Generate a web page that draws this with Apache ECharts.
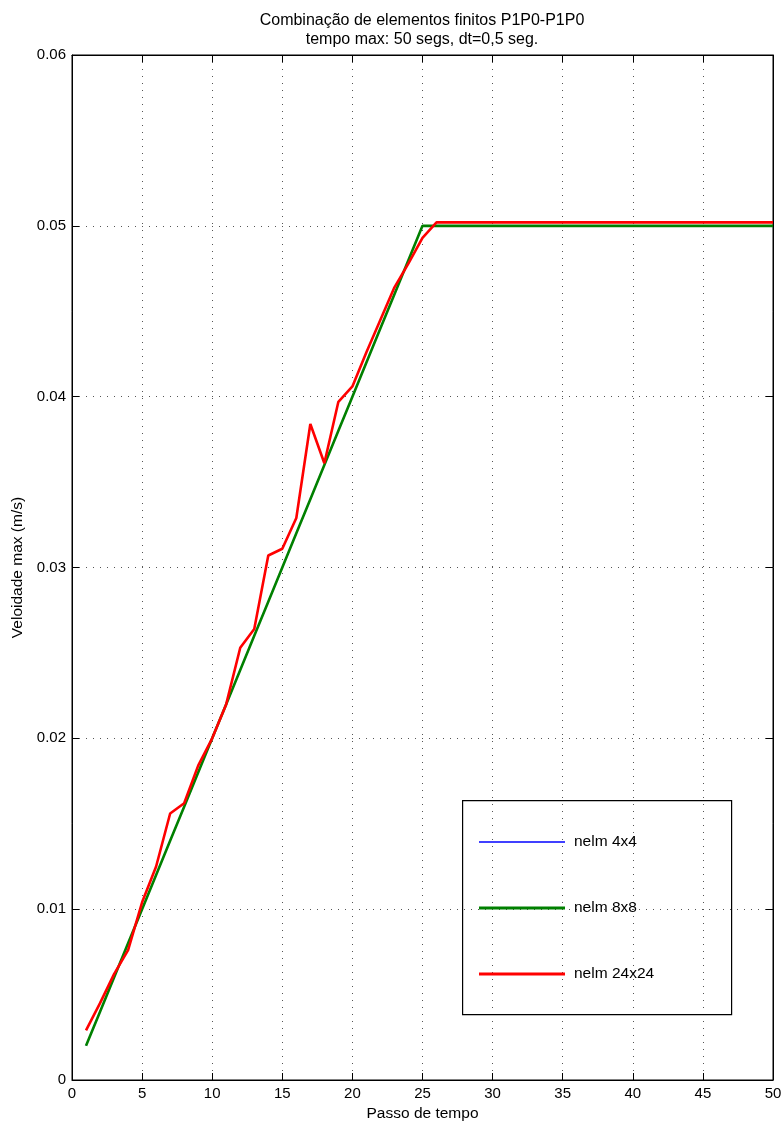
<!DOCTYPE html>
<html>
<head>
<meta charset="utf-8">
<script src="https://cdn.jsdelivr.net/npm/echarts@6/dist/echarts.min.js"></script>
<style>
  html, body { margin: 0; padding: 0; background: #fff; }
  #chart { width: 784px; height: 1126px; }
</style>
</head>
<body>
<div id="chart"></div>
<script>
// Time steps 1..50
const steps = [1,2,3,4,5,6,7,8,9,10,11,12,13,14,15,16,17,18,19,20,21,22,23,24,25,
               26,27,28,29,30,31,32,33,34,35,36,37,38,39,40,41,42,43,44,45,46,47,48,49,50];

// Max velocity (m/s) for each mesh
const nelm4x4 = [0.002,0.004,0.006,0.008,0.010,0.012,0.014,0.016,0.018,0.020,
                 0.022,0.024,0.026,0.028,0.030,0.032,0.034,0.036,0.038,0.040,
                 0.042,0.044,0.046,0.048,0.050,0.050,0.050,0.050,0.050,0.050,
                 0.050,0.050,0.050,0.050,0.050,0.050,0.050,0.050,0.050,0.050,
                 0.050,0.050,0.050,0.050,0.050,0.050,0.050,0.050,0.050,0.050];
const nelm8x8 = [0.002,0.004,0.006,0.008,0.010,0.012,0.014,0.016,0.018,0.020,
                 0.022,0.024,0.026,0.028,0.030,0.032,0.034,0.036,0.038,0.040,
                 0.042,0.044,0.046,0.048,0.050,0.050,0.050,0.050,0.050,0.050,
                 0.050,0.050,0.050,0.050,0.050,0.050,0.050,0.050,0.050,0.050,
                 0.050,0.050,0.050,0.050,0.050,0.050,0.050,0.050,0.050,0.050];
const nelm24x24 = [0.0029,0.0045,0.0062,0.0076,0.0104,0.0125,0.0156,0.0162,0.0184,0.0200,
                   0.0220,0.0253,0.0264,0.0307,0.0311,0.0329,0.0384,0.0361,0.0397,0.0406,
                   0.0426,0.0445,0.0464,0.0478,0.0493,0.0502,0.0502,0.0502,0.0502,0.0502,
                   0.0502,0.0502,0.0502,0.0502,0.0502,0.0502,0.0502,0.0502,0.0502,0.0502,
                   0.0502,0.0502,0.0502,0.0502,0.0502,0.0502,0.0502,0.0502,0.0502,0.0502];

const seriesNames = ['nelm 4x4', 'nelm 8x8', 'nelm 24x24'];
const seriesColors = ['#0000ff', '#008000', '#ff0000'];
const seriesWidths = [1, 2.6, 2.6];

const FONT = "'Liberation Sans', Helvetica, Arial, sans-serif";
const pairs = arr => steps.map((s, i) => [s, arr[i]]);

const chart = echarts.init(document.getElementById('chart'), null, { renderer: 'canvas' });

const gridLine = { show: true, lineStyle: { color: '#555', width: 1, type: [1, 6] } };
const tick = { show: true, inside: true, length: 7, lineStyle: { color: '#000', width: 1 } };
const axLine = { show: true, onZero: false, lineStyle: { color: '#000', width: 1 } };

// One legend block per entry so each sample line gets its own thickness
const legendRowsTop = [844, 910, 976];
const legends = seriesNames.map((name, i) => ({
  left: 479,
  top: legendRowsTop[i] - 10,
  height: 20,
  itemWidth: 86,
  itemHeight: i === 0 ? 1.5 : 3,
  padding: 0,
  icon: 'rect',
  selectedMode: false,
  textStyle: { fontFamily: FONT, fontSize: 15.5, color: '#000', padding: [0, 0, 0, 4] },
  data: [name]
}));

const makeSeries = (name, data, i) => ({
  name, type: 'line', data: pairs(data),
  symbol: 'none', color: seriesColors[i],
  lineStyle: { color: seriesColors[i], width: seriesWidths[i] }, z: 2 + i
});

chart.setOption({
  animation: false,
  backgroundColor: '#fff',
  textStyle: { fontFamily: FONT },
  title: {
    text: 'Combinação de elementos finitos P1P0-P1P0\ntempo max: 50 segs, dt=0,5 seg.',
    left: 417,
    top: 6,
    textAlign: 'center',
    textStyle: { fontFamily: FONT, fontSize: 16, fontWeight: 'normal', color: '#000', lineHeight: 19 }
  },
  grid: {
    left: 72, right: 11, top: 55, bottom: 46,
    outerBoundsMode: 'none', containLabel: false,
    show: true, borderColor: '#000', borderWidth: 1
  },
  xAxis: [
    {
      type: 'value', min: 0, max: 50, interval: 5, position: 'bottom',
      name: 'Passo de tempo', nameLocation: 'middle', nameGap: 26,
      nameTextStyle: { fontFamily: FONT, fontSize: 15.5, color: '#000' },
      axisLine: axLine, axisTick: tick, splitLine: gridLine,
      axisLabel: { fontFamily: FONT, fontSize: 15, color: '#000', margin: 6 }
    },
    {
      type: 'value', min: 0, max: 50, interval: 5, position: 'top',
      axisLine: axLine, axisTick: tick, splitLine: { show: false },
      axisLabel: { show: false }
    }
  ],
  yAxis: [
    {
      type: 'value', min: 0, max: 0.06, interval: 0.01, position: 'left',
      name: 'Veloidade max (m/s)', nameLocation: 'middle', nameGap: 42, nameRotate: 90,
      nameTextStyle: { fontFamily: FONT, fontSize: 15.5, color: '#000' },
      axisLine: axLine, axisTick: tick, splitLine: gridLine,
      axisLabel: {
        fontFamily: FONT, fontSize: 15, color: '#000', margin: 6,
        formatter: v => (v === 0 ? '0' : v.toFixed(2))
      }
    },
    {
      type: 'value', min: 0, max: 0.06, interval: 0.01, position: 'right',
      axisLine: axLine, axisTick: tick, splitLine: { show: false },
      axisLabel: { show: false }
    }
  ],
  legend: legends,
  graphic: [
    {
      type: 'rect',
      left: 462, top: 800,
      shape: { width: 269, height: 214 },
      style: { fill: 'rgba(0,0,0,0)', stroke: '#000', lineWidth: 1.2 },
      z: 5
    }
  ],
  series: [
    makeSeries(seriesNames[0], nelm4x4, 0),
    makeSeries(seriesNames[1], nelm8x8, 1),
    makeSeries(seriesNames[2], nelm24x24, 2)
  ]
});
</script>
</body>
</html>
